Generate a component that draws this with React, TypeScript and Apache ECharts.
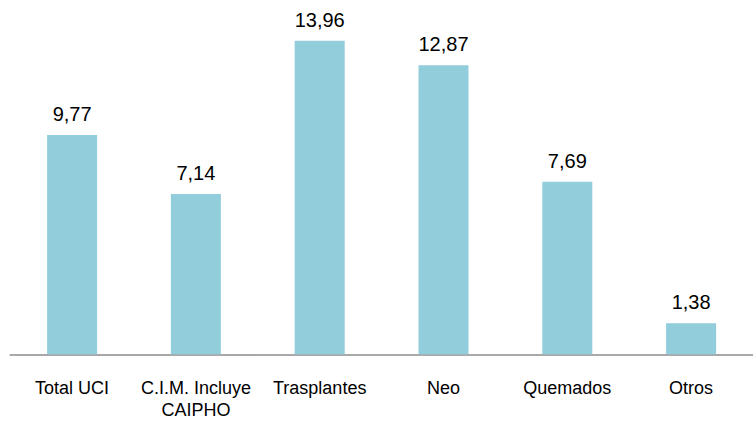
import React, { useEffect, useRef } from "react";
import * as echarts from "echarts";

const categories = ["Total UCI", "C.I.M. Incluye\nCAIPHO", "Trasplantes", "Neo", "Quemados", "Otros"];
const values = [9.77, 7.14, 13.96, 12.87, 7.69, 1.38];

export default function App() {
  const ref = useRef<HTMLDivElement>(null);
  useEffect(() => {
    const chart = echarts.init(ref.current!, null, { renderer: "svg" });
    chart.setOption({
      animation: false,
      grid: { left: 10.2, width: 749.5, top: 17.5, bottom: 67.7 },
      xAxis: {
        type: "category",
        data: categories,
        axisLine: { lineStyle: { color: "#8c8c8c", width: 1.5 } },
        axisTick: { show: false },
        axisLabel: {
          color: "#000",
          fontFamily: "Liberation Sans",
          fontSize: 18,
          margin: 23,
          lineHeight: 22,
          interval: 0,
        },
      },
      yAxis: {
        type: "value",
        min: 0,
        max: 15,
        show: false,
        splitLine: { show: false },
      },
      series: [
        {
          type: "bar",
          data: values,
          barWidth: 50,
          itemStyle: { color: "#92CDDC" },
          label: {
            show: true,
            position: "top",
            distance: 11,
            color: "#000",
            fontFamily: "Liberation Sans",
            fontSize: 20,
            formatter: (p: any) => p.value.toFixed(2).replace(".", ","),
          },
        },
      ],
    });
    return () => chart.dispose();
  }, []);
  return (
    <div
      ref={ref}
      style={{ position: "absolute", left: 0, top: 0, width: 753, height: 422 }}
    />
  );
}
